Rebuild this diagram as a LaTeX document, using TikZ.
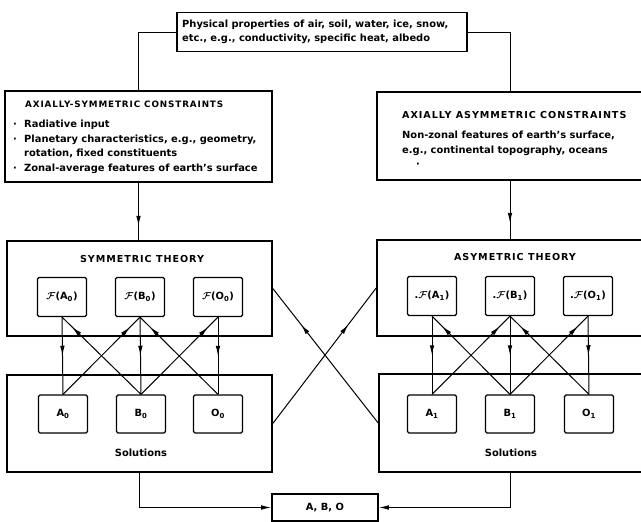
\documentclass[tikz,border=0pt]{standalone}
\usepackage{amsmath}
\usepackage{fontspec}
\setmainfont{DejaVu Sans}
\usetikzlibrary{arrows.meta,decorations.markings}

\newcommand{\bodyfont}{\fontsize{9.9}{14.5}\selectfont\bfseries}
\newcommand{\titlefont}{\fontsize{9.6}{11}\selectfont\bfseries\addfontfeature{LetterSpace=10}}
\newcommand{\titlefontsm}{\fontsize{8.8}{11}\selectfont\bfseries\addfontfeature{LetterSpace=10}}
\newcommand{\Fop}{$\boldsymbol{\mathcal{F}}$}
\newcommand{\bul}{\makebox[11pt][l]{·}}
\newcommand{\sub}[1]{\textsubscript{#1}}

\tikzset{
  bigbox/.style={draw, line width=1.6pt, rectangle, inner sep=0pt},
  smallbox/.style={draw, line width=1.2pt, rectangle, rounded corners=1.5pt,
    minimum width=49pt, minimum height=39pt, inner sep=0pt, font=\bodyfont},
  conn/.style={line width=1pt},
  midarrow/.style={conn, postaction={decorate}, decoration={markings,
    mark=at position #1 with {\arrow{Latex[length=10pt,width=4.6pt]}}}},
  endarrow/.style={conn, -{Latex[length=10pt,width=4.6pt]}},
  txt/.style={inner sep=0pt, font=\bodyfont, align=left},
  ttl/.style={inner sep=0pt, font=\titlefont}
}

\begin{document}
\begin{tikzpicture}[x=1pt, y=-1pt]
\useasboundingbox (0,0) rectangle (641,522);
\fill[white] (0,0) rectangle (641,522);
\clip (0,0) rectangle (641,522);

% physical properties (top)
\node[bigbox, minimum width=290pt, minimum height=39pt] (phys) at (322,32) {};
\node[txt, anchor=west] (physt) at (182,32)
  {Physical properties of air, soil, water, ice, snow,\\etc., e.g., conductivity, specific heat, albedo};

% constraint boxes
\node[bigbox, minimum width=267pt, minimum height=91pt] (lcons) at (138.5,136.5) {};
\node[ttl, font=\titlefontsm, anchor=west] (lconst) at (25,104) {AXIALLY-SYMMETRIC CONSTRAINTS};
\node[txt, anchor=north west] (lconsb) at (13,120)
  {\bul Radiative input\\
   \bul Planetary characteristics, e.g., geometry,\\
   \hspace*{11pt}rotation, fixed constituents\\
   \bul Zonal-average features of earth's surface};

\node[bigbox, minimum width=273pt, minimum height=88pt] (rcons) at (513.5,136) {};
\node[ttl, anchor=west] (rconst) at (402,115) {AXIALLY ASYMMETRIC CONSTRAINTS};
\node[txt, anchor=north west] (rconsb) at (402,131)
  {Non-zonal features of earth's surface,\\
   e.g., continental topography, oceans\\
   \hspace*{14pt}·};

% theory boxes
\node[bigbox, minimum width=265pt, minimum height=95pt] (symth) at (139.5,288.5) {};
\node[ttl] (symtt) at (142,259) {SYMMETRIC THEORY};
\node[bigbox, minimum width=273pt, minimum height=96pt] (asth) at (513.5,288) {};
\node[ttl] (astt) at (515,257) {ASYMETRIC THEORY};

\node[smallbox] (fA0) at (62,297) {\Fop(A\sub{0})};
\node[smallbox] (fB0) at (140,297) {\Fop(B\sub{0})};
\node[smallbox] (fO0) at (218,297) {\Fop(O\sub{0})};
\node[smallbox] (fA1) at (432,296) {.\Fop(A\sub{1})};
\node[smallbox] (fB1) at (510,296) {.\Fop(B\sub{1})};
\node[smallbox] (fO1) at (588,296) {.\Fop(O\sub{1})};

% solution boxes
\node[bigbox, minimum width=265pt, minimum height=97pt] (lsol) at (139.5,423.5) {};
\node[txt] (lsolt) at (141,453) {Solutions};
\node[bigbox, minimum width=271pt, minimum height=98pt] (rsol) at (514.5,423) {};
\node[txt] (rsolt) at (511,453) {Solutions};

\node[smallbox, minimum height=38pt] (A0) at (63,414) {A\sub{0}};
\node[smallbox, minimum height=38pt] (B0) at (141,414) {B\sub{0}};
\node[smallbox, minimum height=38pt] (O0) at (218,414) {O\sub{0}};
\node[smallbox, minimum height=38pt] (A1) at (432,414) {A\sub{1}};
\node[smallbox, minimum height=38pt] (B1) at (510,414) {B\sub{1}};
\node[smallbox, minimum height=38pt] (O1) at (589,414) {O\sub{1}};

% combined result
\node[bigbox, minimum width=106pt, minimum height=27pt, font=\bodyfont] (abo) at (325,507.5) {A, B, O};

% feeds from the top
\draw[conn] (phys.west) -| (lcons.north);
\draw[conn] (phys.east) -| (rcons.north -| fB1);
\draw[midarrow=0.75] (lcons.south) -- (symth.north -| lcons.south);
\draw[midarrow=0.72] (rcons.south -| fB1) -- (asth.north -| fB1);

% operators to solutions and back
\foreach \f/\s in {fA0/A0, fB0/B0, fO0/O0, fA1/A1, fB1/B1, fO1/O1}
  \draw[midarrow=0.5] (\f.south) -- (\s.north);
\foreach \s/\f in {A0/fB0, B0/fA0, B0/fO0, O0/fB0, A1/fB1, B1/fA1, B1/fO1, O1/fB1}
  \draw[midarrow=0.87] (\s.north) -- (\f.south);

% coupling between the two theories
\draw[midarrow=0.73] (lsol.east) -- (asth.west);
\draw[midarrow=0.73] (rsol.west) -- (symth.east);

% solutions combined
\draw[endarrow] (lsol.south) |- (abo.west);
\draw[endarrow] (rsol.south -| B1) |- (abo.east);
\end{tikzpicture}
\end{document}
